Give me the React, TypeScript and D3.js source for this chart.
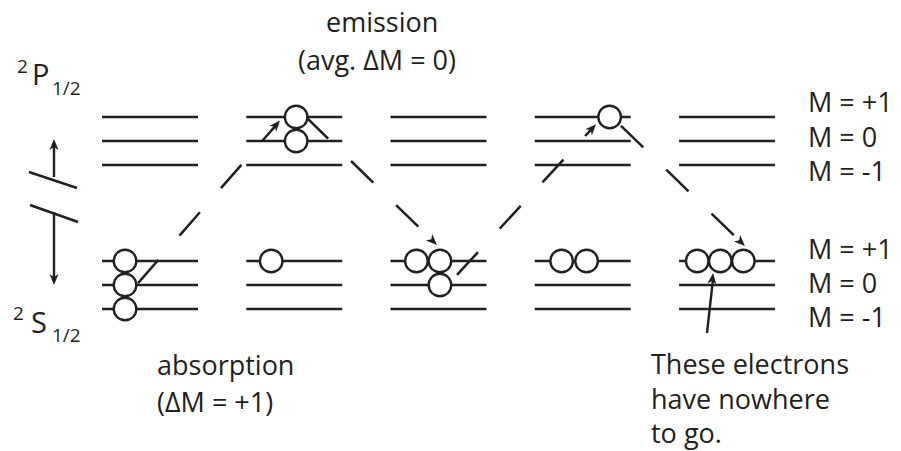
import React from "react";
import * as d3 from "d3";

// ---- data ----
const groupIds = [0, 1, 2, 3, 4];
// energy index of sublevels: S: M=-1,0,+1 -> 0,1,2 ; P: M=-1,0,+1 -> 6,7,8
const sLevels = [0, 1, 2];
const pLevels = [6, 7, 8];
// electrons: group, energy level, slot along the level (fraction of level width)
const electrons = [
  { g: 0, e: 2, slot: 0.24 },
  { g: 0, e: 1, slot: 0.24 },
  { g: 0, e: 0, slot: 0.24 },
  { g: 1, e: 2, slot: 0.26 },
  { g: 1, e: 8, slot: 0.52 },
  { g: 1, e: 7, slot: 0.52 },
  { g: 2, e: 2, slot: 0.27 },
  { g: 2, e: 2, slot: 0.515 },
  { g: 2, e: 1, slot: 0.515 },
  { g: 3, e: 2, slot: 0.28 },
  { g: 3, e: 2, slot: 0.54 },
  { g: 3, e: 8, slot: 0.78 },
  { g: 4, e: 2, slot: 0.19 },
  { g: 4, e: 2, slot: 0.43 },
  { g: 4, e: 2, slot: 0.67 },
];
// dashed transitions in (group position u, energy e)
const transitions = [
  { u0: 0.25, e0: 1.08, u1: 1.234, e1: 7.85 },
  { u0: 1.414, e0: 8.0, u1: 2.322, e1: 2.67 },
  { u0: 2.461, e0: 1.42, u1: 3.425, e1: 7.7 },
  { u0: 3.598, e0: 7.63, u1: 4.457, e1: 2.63 },
];
const pointer = { u0: 4.194, e0: -1.0, u1: 4.236, e1: 1.5 };
const levelLabels = ["M = +1", "M = 0", "M = -1"];
const noteLines = ["These electrons", "have nowhere", "to go."];

const INK = "#231f20";
const FONT = "'Open Sans', 'Noto Sans', sans-serif";

const W = 901;
const H = 451;
const LEVEL_W = 96;

const x = d3.scaleLinear().domain([0, 4]).range([102, 679]);
const y = d3.scaleLinear().domain([0, 8]).range([309, 117]);

function Arrowhead({ x1, y1, x0, y0 }: { x1: number; y1: number; x0: number; y0: number }) {
  const ang = (Math.atan2(y1 - y0, x1 - x0) * 180) / Math.PI;
  return (
    <path
      d="M0,0 L-11,-4.5 L-8,0 L-11,4.5 Z"
      fill={INK}
      transform={`translate(${x1},${y1}) rotate(${ang})`}
    />
  );
}

export default function App() {
  const levels = groupIds.flatMap((g) =>
    [...sLevels, ...pLevels].map((e) => ({ g, e }))
  );
  return (
    <svg width={W} height={H} style={{ display: "block", position: "absolute", left: 0, top: 0 }}>
      <rect width={W} height={H} fill="#fff" />
      {/* level lines */}
      {levels.map((d, i) => (
        <line
          key={i}
          x1={x(d.g)}
          x2={x(d.g) + LEVEL_W}
          y1={y(d.e)}
          y2={y(d.e)}
          stroke={INK}
          strokeWidth={2.5}
        />
      ))}
      {/* transitions */}
      {transitions.map((t, i) => {
        const X0 = x(t.u0), Y0 = y(t.e0), X1 = x(t.u1), Y1 = y(t.e1);
        const L = Math.hypot(X1 - X0, Y1 - Y0);
        return (
          <g key={i}>
            <line
              x1={X0}
              y1={Y0}
              x2={X1 - ((X1 - X0) / L) * 6}
              y2={Y1 - ((Y1 - Y0) / L) * 6}
              stroke={INK}
              strokeWidth={2.5}
              strokeDasharray="31 32"
            />
            <Arrowhead x0={X0} y0={Y0} x1={X1} y1={Y1} />
          </g>
        );
      })}
      {/* electrons */}
      {electrons.map((d, i) => (
        <circle
          key={i}
          cx={x(d.g) + d.slot * LEVEL_W}
          cy={y(d.e)}
          r={11.3}
          fill="#fff"
          stroke={INK}
          strokeWidth={2.4}
        />
      ))}
      {/* pointer from note */}
      <line
        x1={x(pointer.u0)}
        y1={y(pointer.e0)}
        x2={x(pointer.u1)}
        y2={y(pointer.e1) + 6}
        stroke={INK}
        strokeWidth={2.4}
      />
      <Arrowhead x0={x(pointer.u0)} y0={y(pointer.e0)} x1={x(pointer.u1)} y1={y(pointer.e1)} />

      {/* broken energy axis */}
      <line x1={54} x2={54} y1={177} y2={146} stroke={INK} strokeWidth={2.4} />
      <Arrowhead x0={54} y0={177} x1={54} y1={139} />
      <line x1={29} y1={172} x2={77} y2={188} stroke={INK} strokeWidth={2.4} />
      <line x1={30} y1={205} x2={78} y2={222} stroke={INK} strokeWidth={2.4} />
      <line x1={54} x2={54} y1={212} y2={278} stroke={INK} strokeWidth={2.4} />
      <Arrowhead x0={54} y0={212} x1={54} y1={285} />

      <g fontFamily={FONT} fill={INK}>
        {/* term symbols */}
        <text x={17} y={73} fontSize={19}>2</text>
        <text x={32} y={85} fontSize={29}>P</text>
        <text x={52} y={95} fontSize={19}>1/2</text>
        <text x={13} y={320} fontSize={19}>2</text>
        <text x={31} y={333} fontSize={29}>S</text>
        <text x={52} y={342} fontSize={19}>1/2</text>

        <text x={326} y={32} fontSize={27}>emission</text>
        <text x={298} y={70} fontSize={27}>(avg. ΔM = 0)</text>
        <text x={157} y={375} fontSize={27}>absorption</text>
        <text x={157} y={412} fontSize={27}>(ΔM = +1)</text>

        {levelLabels.map((s, i) => (
          <text key={"u" + i} x={808} y={112 + i * 34.5} fontSize={27}>{s}</text>
        ))}
        {levelLabels.map((s, i) => (
          <text key={"l" + i} x={808} y={259 + i * 34} fontSize={27}>{s}</text>
        ))}
        {noteLines.map((s, i) => (
          <text key={"n" + i} x={651} y={374 + i * 34.5} fontSize={27}>{s}</text>
        ))}
      </g>
    </svg>
  );
}
